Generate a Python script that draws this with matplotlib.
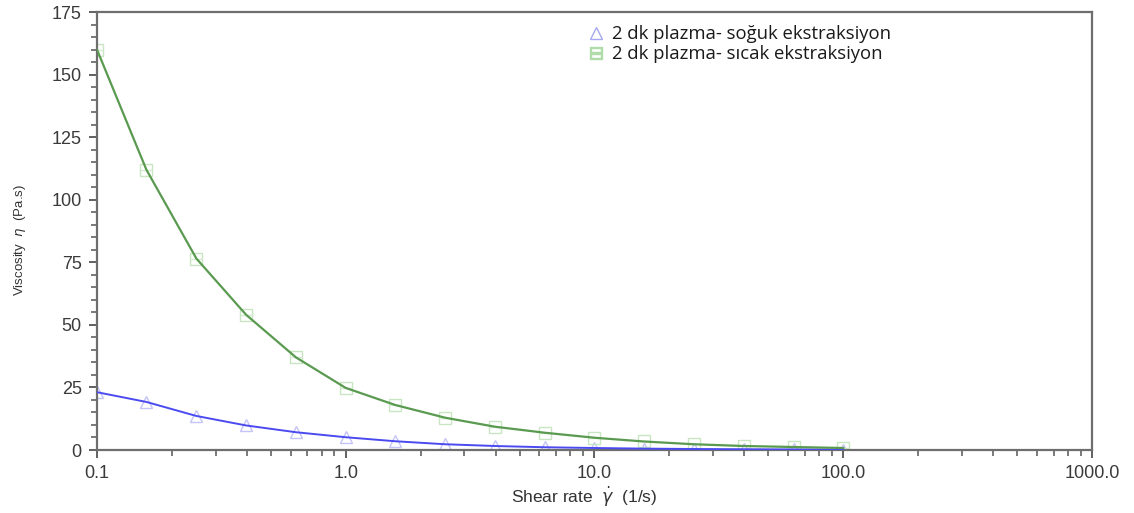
import numpy as np
import matplotlib
matplotlib.use('Agg')
import matplotlib.pyplot as plt
from matplotlib.ticker import FixedLocator, MultipleLocator, NullFormatter

plt.rcParams['font.family'] = ['Liberation Sans', 'DejaVu Sans']

# shear rate points, 5 per decade (1/s)
shear_rate = [0.1, 0.158, 0.251, 0.398, 0.631, 1.0, 1.58, 2.51, 3.98, 6.31,
              10.0, 15.8, 25.1, 39.8, 63.1, 100.0]

# viscosity (Pa.s)
visc_cold = [23.1, 19.2, 13.6, 9.8, 7.1, 5.1, 3.5, 2.3, 1.6, 1.1,
             0.8, 0.55, 0.4, 0.3, 0.22, 0.15]
visc_hot = [160.0, 112.0, 76.5, 54.0, 37.0, 24.8, 18.0, 12.9, 9.3, 6.9,
            4.9, 3.4, 2.3, 1.6, 1.2, 0.8]

label_cold = '2 dk plazma- soğuk ekstraksiyon'
label_hot = '2 dk plazma- sıcak ekstraksiyon'

fig = plt.figure(figsize=(11.34, 5.13), dpi=100)
ax = fig.add_axes([0.0855, 0.1228, 0.8775, 0.8538])

# fitted lines
ax.plot(shear_rate, visc_cold, color='#4a4af0', lw=1.4, zorder=3)
ax.plot(shear_rate, visc_hot, color='#5a9a50', lw=1.6, zorder=3)

# pale measurement markers (triangles / squares with a bar)
ax.plot(shear_rate, visc_cold, ls='none', marker='^', ms=8, mfc='none',
        mec='#c4c4f6', mew=1.0, zorder=2)
ax.plot(shear_rate, visc_hot, ls='none', marker='s', ms=8, mfc='none',
        mec='#c8e6c2', mew=1.0, zorder=2)
ax.plot(shear_rate, visc_hot, ls='none', marker='_', ms=8,
        mec='#d4ecd0', mew=1.0, zorder=2)

# legend entries (markers only)
ax.plot([], [], ls='none', marker='^', ms=8, mfc='none', mec='#a8a8f0',
        label=label_cold)
ax.plot([], [], ls='none', marker='$\u229f$', ms=9, color='#b0dcaa',
        label=label_hot)
leg = ax.legend(loc='upper left', bbox_to_anchor=(0.477, 1.008), frameon=False,
                handlelength=0.8, handletextpad=0.5, labelspacing=0.1,
                prop={'family': 'Open Sans', 'size': 13.3})
for t in leg.get_texts():
    t.set_color('#1a1a1a')

ax.set_xscale('log')
ax.set_xlim(0.1, 1000)
ax.set_ylim(0, 175)

ax.xaxis.set_major_locator(FixedLocator([0.1, 1, 10, 100, 1000]))
ax.set_xticklabels(['0.1', '1.0', '10.0', '100.0', '1000.0'])
ax.xaxis.set_minor_formatter(NullFormatter())
ax.yaxis.set_major_locator(MultipleLocator(25))
ax.yaxis.set_minor_locator(MultipleLocator(5))

for s in ax.spines.values():
    s.set_color('#6e6e6e')
    s.set_linewidth(1.6)

ax.tick_params(which='major', direction='out', length=6, width=1.3,
               color='#555555', labelsize=13, labelcolor='#3a3a3a',
               top=False, right=False, pad=5)
ax.tick_params(which='minor', direction='out', length=4, width=1.1,
               color='#555555', top=False, right=False)

ax.set_xlabel('Shear rate  $\\dot{\\gamma}$  (1/s)', fontsize=12.5,
              color='#333333', va='center')
ax.xaxis.set_label_coords(0.49, -0.107)
ax.set_ylabel('Viscosity  $\\eta$  (Pa.s)', fontsize=9.5, color='#333333',
              va='center')
ax.yaxis.set_label_coords(-0.077, 0.48)

fig.savefig('out.png', dpi=100, facecolor='white')
